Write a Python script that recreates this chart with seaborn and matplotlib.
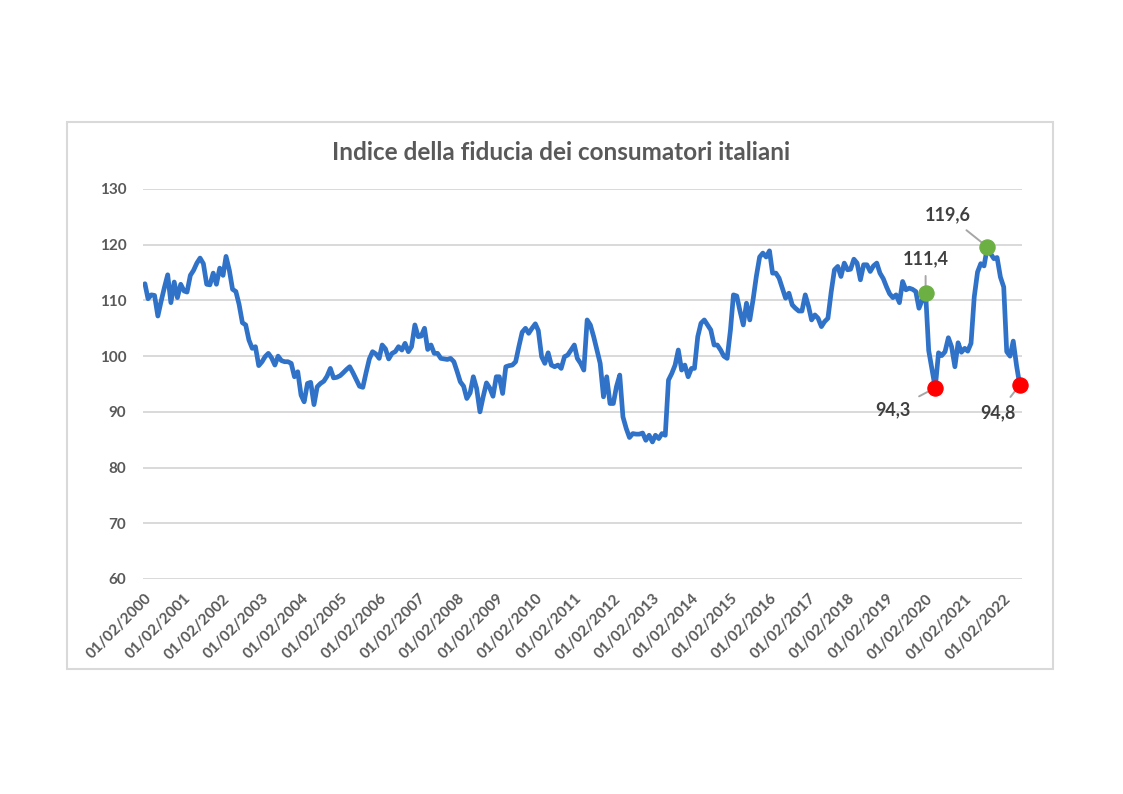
import matplotlib
matplotlib.use('Agg')
import numpy as np
import pandas as pd
import seaborn as sns
import matplotlib.pyplot as plt
import matplotlib.dates as mdates
from matplotlib.patches import Rectangle

# Valori mensili (da febbraio 2000 a luglio 2022)
v2000 = [113.0, 110.3, 111.0, 110.9, 107.2, 109.8, 112.3, 114.6, 109.6, 113.3, 110.5]
v2001 = [112.9, 111.7, 111.5, 114.5, 115.4, 116.7, 117.6, 116.6, 112.9, 112.8, 114.9, 112.9]
v2002 = [115.8, 114.5, 117.9, 115.4, 112.0, 111.6, 109.3, 106.0, 105.6, 102.9, 101.4, 101.7]
v2003 = [98.3, 99.0, 99.9, 100.5, 99.7, 98.4, 100.0, 99.2, 99.0, 99.0, 98.7, 96.3]
v2004 = [97.2, 93.0, 91.8, 95.1, 95.3, 91.3, 94.5, 95.1, 95.5, 96.4, 97.8, 96.1]
v2005 = [96.2, 96.5, 97.0, 97.6, 98.1, 97.0, 95.8, 94.6, 94.4, 97.0, 99.5, 100.8]
v2006 = [100.4, 99.6, 102.0, 101.3, 99.5, 100.5, 100.8, 101.7, 101.1, 102.3, 100.8, 101.7]
v2007 = [105.6, 103.5, 103.6, 105.0, 101.2, 102.0, 100.5, 100.5, 99.6, 99.5, 99.4, 99.6]
v2008 = [99.0, 97.2, 95.4, 94.6, 92.4, 93.4, 96.3, 94.2, 90.0, 92.7, 95.2, 94.3]
v2009 = [92.8, 96.3, 96.3, 93.3, 98.1, 98.3, 98.4, 99.0, 101.8, 104.3, 105.0, 104.1]
v2010 = [105.0, 105.8, 104.6, 99.9, 98.7, 100.6, 98.4, 98.1, 98.4, 97.8, 99.9, 100.2]
v2011 = [101.1, 102.0, 99.6, 98.7, 97.5, 106.5, 105.6, 103.5, 101.1, 98.7, 92.7, 96.3]
v2012 = [91.5, 91.5, 94.5, 96.6, 89.1, 87.0, 85.4, 86.1, 86.0, 86.0, 86.2, 84.9]
v2013 = [85.8, 84.6, 85.8, 85.2, 86.1, 85.8, 95.7, 96.9, 98.4, 101.1, 97.5, 98.4]
v2014 = [96.3, 97.8, 97.8, 103.5, 105.9, 106.5, 105.6, 104.7, 102.0, 102.0, 101.1, 100.0]
v2015 = [99.6, 104.7, 111.0, 110.8, 108.1, 105.6, 109.5, 106.5, 110.2, 114.3, 117.8, 118.5]
v2016 = [117.8, 118.9, 114.9, 114.9, 114.0, 112.2, 110.4, 111.3, 109.2, 108.6, 108.1, 108.1]
v2017 = [111.0, 108.9, 106.5, 107.4, 106.8, 105.3, 106.2, 106.8, 111.6, 115.5, 116.1, 114.3]
v2018 = [116.7, 115.5, 115.6, 117.4, 116.7, 113.7, 116.4, 116.4, 115.2, 116.2, 116.7, 114.9]
v2019 = [113.9, 112.4, 111.2, 110.5, 111.0, 109.6, 113.4, 111.9, 112.2, 112.0, 111.6, 108.6]
v2020 = [110.1, 111.4, 101.0, np.nan, 94.3, 100.6, 100.1, 100.8, 103.3, 101.7, 98.1, 102.4]
v2021 = [100.7, 101.4, 100.9, 102.3, 110.6, 115.1, 116.6, 116.2, 119.6, 118.4, 117.5, 117.7]
v2022 = [114.2, 112.4, 100.8, 100.0, 102.7, 98.3, 94.8]

valori = (v2000 + v2001 + v2002 + v2003 + v2004 + v2005 + v2006 + v2007 + v2008
          + v2009 + v2010 + v2011 + v2012 + v2013 + v2014 + v2015 + v2016 + v2017
          + v2018 + v2019 + v2020 + v2021 + v2022)
date = pd.date_range('2000-02-01', '2022-07-01', freq='MS')

df = pd.DataFrame({'data': date, 'indice': valori}).dropna()

# punti evidenziati
massimi = ['2020-02-01', '2021-09-01']
minimi = ['2020-05-01', '2022-07-01']

titolo = 'Indice della fiducia dei consumatori italiani'
grigio = '#595959'

sns.set_theme(style='white')
plt.rcParams['font.family'] = ['Lato', 'DejaVu Sans']

W, H = 1123, 794
fig = plt.figure(figsize=(W / 100, H / 100), dpi=100)
ax = fig.add_axes([143 / W, 1 - 579 / H, (1022 - 143) / W, (579 - 189) / H])

sns.lineplot(data=df, x='data', y='indice', ax=ax, color='#2f72c8', linewidth=3.4)

ax.set_ylim(60, 130)
ax.set_yticks(range(60, 131, 10))
ax.set_xlim(pd.Timestamp('2000-01-14'), pd.Timestamp('2022-07-22'))
ax.set_xticks(pd.date_range('2000-02-01', '2022-02-01', freq='12MS'))
ax.xaxis.set_major_formatter(mdates.DateFormatter('%d/%m/%Y'))
ax.yaxis.grid(True, color='#d9d9d9', linewidth=1.4)
ax.xaxis.grid(False)
sns.despine(ax=ax, left=True, bottom=True)

ax.tick_params(axis='y', length=0, pad=12, labelsize=11, labelcolor=grigio)
ax.tick_params(axis='x', length=0, pad=9, labelsize=11, labelcolor=grigio)
for t in ax.get_yticklabels():
    t.set_fontweight('bold')
for t in ax.get_xticklabels():
    t.set_fontweight('bold')
    t.set_rotation(45)
    t.set_ha('right')
    t.set_rotation_mode('anchor')

# marcatori
df_max = df[df['data'].isin(pd.to_datetime(massimi))]
df_min = df[df['data'].isin(pd.to_datetime(minimi))]
sns.scatterplot(data=df_max, x='data', y='indice', ax=ax, color='#6cb043', s=120,
                edgecolor='#6cb043', zorder=5, legend=False, clip_on=False)
sns.scatterplot(data=df_min, x='data', y='indice', ax=ax, color='#ff0000', s=120,
                edgecolor='#ff0000', zorder=5, legend=False, clip_on=False)
ax.set_xlabel('')
ax.set_ylabel('')

offsets = {'2020-02-01': (0, 34), '2021-09-01': (-40, 32),
           '2020-05-01': (-42, -22), '2022-07-01': (-22, -28)}
for d, off in offsets.items():
    v = df.loc[df['data'] == pd.Timestamp(d), 'indice'].iloc[0]
    ax.annotate(f'{v:.1f}'.replace('.', ','), xy=(pd.Timestamp(d), v),
                xytext=off, textcoords='offset pixels', ha='center', va='center',
                fontsize=13, fontweight='bold', color='#404040',
                arrowprops=dict(arrowstyle='-', color='#a6a6a6', lw=1.4,
                                shrinkA=4, shrinkB=4))

fig.text(561 / W, 1 - 152 / H, titolo, ha='center', va='center',
         fontsize=17.5, fontweight='bold', color=grigio)

cornice = Rectangle((67 / W, 1 - 669 / H), (1053 - 67) / W, (669 - 122) / H,
                    transform=fig.transFigure, fill=False, edgecolor='#d9d9d9',
                    linewidth=1.5)
fig.patches.append(cornice)

fig.savefig('out.png', dpi=100)
